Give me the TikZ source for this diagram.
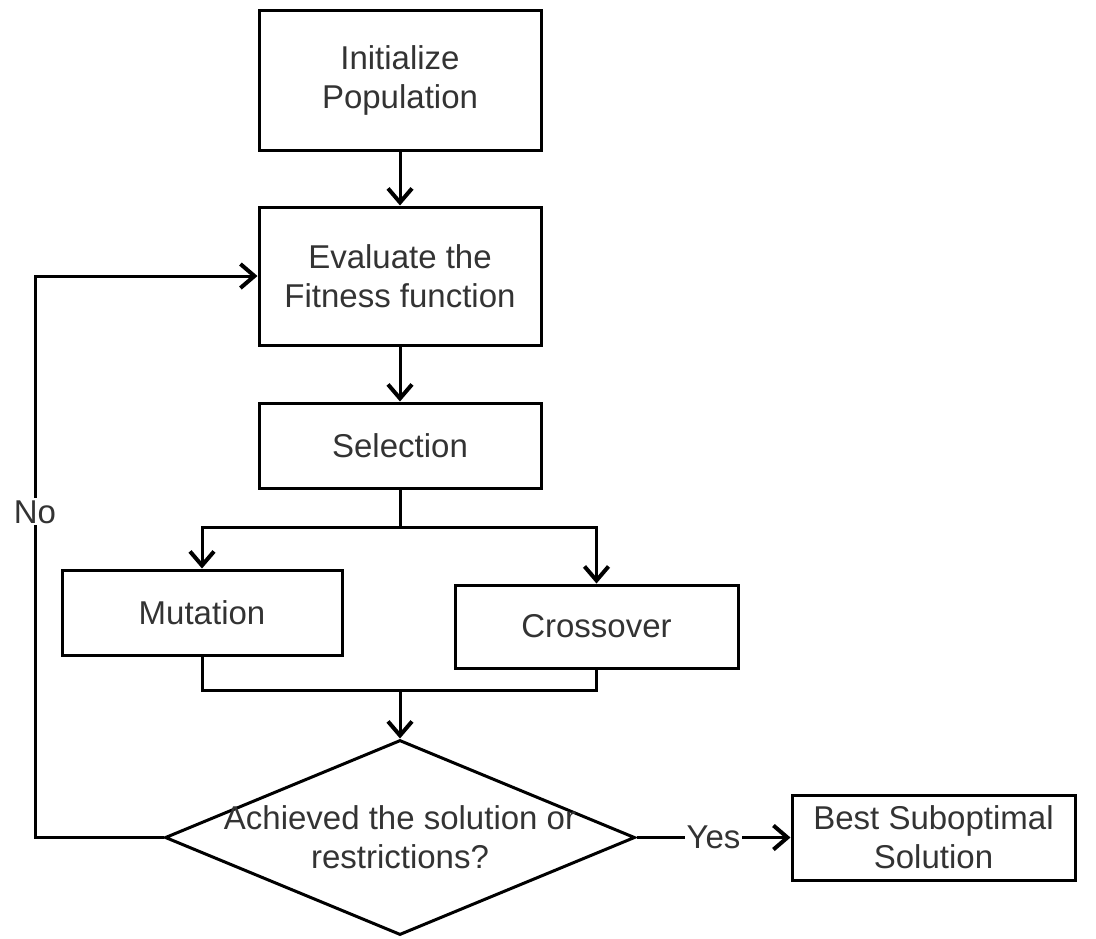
\documentclass[tikz,border=0pt]{standalone}
\usepackage{fontspec}
\setmainfont{Liberation Sans}
\usetikzlibrary{shapes.geometric,arrows.meta,calc}
\tikzset{
    block/.style={draw, line width=1.5pt, rectangle, align=center, text=black!80,
      font=\fontsize{16.5}{19.5}\selectfont, inner sep=0pt},
    decision/.style={draw, line width=1.5pt, diamond, inner sep=0pt},
    flow/.style={line width=1.5pt, -{Straight Barb[length=7pt,width=12pt,line width=2pt]}},
    link/.style={line width=1.5pt},
    tag/.style={fill=white, text=black!80, inner sep=1pt,
      font=\fontsize{16.5}{19.5}\selectfont},
  }
\begin{document}
\begin{tikzpicture}[x=0.5pt,y=-0.5pt]
				  %cadre de l'image
				  \useasboundingbox (0,0) rectangle (1096,938);
				  \node[block, minimum width=141pt, minimum height=70pt](init) at (400,80) {Initialize\\Population};
				  \node[block, minimum width=141pt, minimum height=69pt](eval) at (400,276) {Evaluate the\\Fitness function};
				  \node[block, minimum width=141pt, minimum height=42.5pt](sel) at (400,445.5) {Selection};
				  \node[block, minimum width=140pt, minimum height=42.5pt](mut) at (202,612.5) {Mutation};
				  \node[block, minimum width=141.5pt, minimum height=41.5pt](cross) at (596.5,626.5) {Crossover};
				  \node[decision, minimum width=235pt, minimum height=97.5pt](check) at (400,837.5) {};
				  \node[align=center, text=black!80, font=\fontsize{16.5}{19.5}\selectfont](checktext) at (check) {Achieved the solution or\\restrictions?};
				  \node[block, minimum width=141.5pt, minimum height=42.5pt](best) at (933.5,837.5) {Best Suboptimal\\Solution};

				  \coordinate(split) at (400,527);
				  \coordinate(merge) at (400,690);
				  \coordinate(back) at (35,837.5);

				  \draw[flow] (init) -- (eval);
				  \draw[flow] (eval) -- (sel);
				  %separation
				  \draw[link] (sel.south) -- (split);
				  \draw[flow] (split) -| (mut.north);
				  \draw[flow] (split) -| (cross.north);
				  %jonction
				  \draw[link] (mut.south) |- (merge);
				  \draw[link] (cross.south) |- (merge);
				  \draw[flow] (merge) -- (check.north);
				  %sorties
				  \draw[flow] (check.east) -- node[tag]{Yes} (best.west);
				  \draw[flow] (check.west) -- (back) |- node[tag, pos=0.29]{No} (eval.west);
				  \end{tikzpicture}
\end{document}
